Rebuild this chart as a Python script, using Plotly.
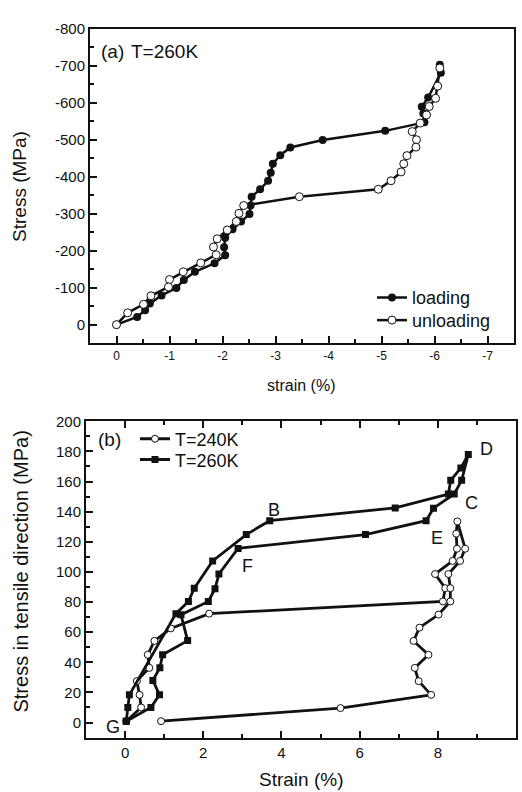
import plotly.graph_objects as go

# ---------------- Panel (a): T=260K, compression ----------------
a_load_strain = [0, -0.39, -0.54, -0.63, -0.85, -1.13, -1.27, -1.48, -1.85, -2.05, -2.03, -2.05,
                 -2.19, -2.35, -2.51, -2.53, -2.55, -2.71, -2.86, -2.91, -2.95, -3.09, -3.28,
                 -3.89, -5.07, -5.81, -5.79, -5.76, -5.88, -6.12, -6.1]
a_load_stress = [0, -21, -39, -57, -79, -99, -121, -143, -166, -188, -209, -235,
                 -258, -279, -299, -322, -346, -366, -389, -411, -435, -458, -479,
                 -499, -524, -547, -571, -589, -614, -681, -703]
a_unload_strain = [-6.1, -6.06, -6.02, -5.9, -5.85, -5.73, -5.58, -5.66, -5.65, -5.48, -5.42,
                   -5.37, -5.18, -4.94, -3.45, -2.4, -2.31, -2.26, -2.09, -1.9, -1.83, -1.88,
                   -1.59, -1.26, -1.0, -0.98, -0.65, -0.51, -0.21, 0]
a_unload_stress = [-694, -645, -612, -590, -567, -545, -522, -500, -480, -457, -435,
                   -413, -389, -366, -346, -322, -301, -279, -256, -232, -210, -189,
                   -167, -143, -122, -102, -78, -55, -32, 0]
a_xticks = [0, -1, -2, -3, -4, -5, -6, -7]
a_xticktext = ["0", "-1", "-2", "-3", "-4", "-5", "-6", "-7"]
a_yticks = [0, -100, -200, -300, -400, -500, -600, -700, -800]
a_yticktext = ["0", "-100", "-200", "-300", "-400", "-500", "-600", "-700", "-800"]

# ---------------- Panel (b): tensile ----------------
b240_strain = [0.03, 0.41, 0.37, 0.3, 0.62, 0.58, 0.75, 1.17, 2.15, 8.13, 8.19, 7.93, 8.38, 8.49,
               8.47, 8.5, 8.7, 8.57, 8.27, 8.32, 8.32, 8.02, 7.53, 7.38, 7.76, 7.41, 7.51, 7.83,
               5.51, 0.92]
b240_stress = [0.9, 10, 18.4, 27.5, 36.3, 45, 54.2, 62.5, 72.3, 80.4, 89.2, 98.6, 107.3, 115.4,
               125.4, 133.5, 115.4, 107.3, 98.6, 89.2, 80.4, 71.7, 63, 54.2, 45, 36.3, 27.5, 18.4,
               9.6, 0.9]
b260_strain = [0.03, 0.07, 0.11, 1.3, 1.62, 1.77, 2.24, 3.1, 3.7, 6.91, 8.27, 8.33, 8.59, 8.78,
               8.61, 8.42, 7.89, 7.7, 6.15, 2.89, 2.4, 2.3, 2.13, 1.43, 1.6, 0.96, 0.89, 0.71,
               0.88, 0.66, 0.03]
b260_stress = [0.9, 10, 18.4, 72.3, 80.4, 89.2, 107.3, 124.8, 134, 142.5, 151.7, 160.8, 169, 178,
               160.8, 151.7, 142.3, 134, 124.8, 115.6, 98.6, 88.9, 80.4, 71.5, 54.4, 45, 36.3, 28,
               18.4, 10, 0.9]
b_xticks = [0, 2, 4, 6, 8, 10]
b_yticks = [0, 20, 40, 60, 80, 100, 120, 140, 160, 180, 200]
b_labels = ["B", "C", "D", "E", "F", "G"]
b_label_x = [3.8, 8.85, 9.25, 7.98, 3.13, -0.3]
b_label_y = [141, 145.5, 181.5, 122.5, 104, -3]

FONT = "Arial, Liberation Sans, Helvetica, sans-serif"
BLACK = "#111111"

fig = go.Figure()

fig.add_trace(go.Scatter(x=a_load_strain, y=a_load_stress, mode="lines+markers", name="loading",
                         line=dict(color=BLACK, width=2.5),
                         marker=dict(symbol="circle", size=8, color=BLACK),
                         xaxis="x", yaxis="y", legend="legend"))
fig.add_trace(go.Scatter(x=a_unload_strain, y=a_unload_stress, mode="lines+markers", name="unloading",
                         line=dict(color=BLACK, width=2.5),
                         marker=dict(symbol="circle", size=8, color="white",
                                     line=dict(color=BLACK, width=1)),
                         xaxis="x", yaxis="y", legend="legend2"))

fig.add_trace(go.Scatter(x=b240_strain, y=b240_stress, mode="lines+markers", name="T=240K",
                         line=dict(color=BLACK, width=2.8),
                         marker=dict(symbol="circle", size=7, color="white",
                                     line=dict(color=BLACK, width=1)),
                         xaxis="x2", yaxis="y2", legend="legend3"))
fig.add_trace(go.Scatter(x=b260_strain, y=b260_stress, mode="lines+markers", name="T=260K",
                         line=dict(color=BLACK, width=2.8),
                         marker=dict(symbol="square", size=7, color=BLACK),
                         xaxis="x2", yaxis="y2", legend="legend4"))

W, H = 522, 792
def px(x):
    return x / W
def py(y):
    return 1 - y / H

axis_common = dict(showline=True, linecolor=BLACK, linewidth=2, ticks="inside",
                   tickcolor=BLACK, tickwidth=1.5, ticklen=7, showgrid=False, zeroline=False)

def leg(xp, yp):
    return dict(x=px(xp), y=py(yp), xanchor="left", yanchor="middle",
                font=dict(size=18, family=FONT), bgcolor="rgba(0,0,0,0)",
                itemsizing="trace")

fig.update_layout(
    width=W, height=H,
    margin=dict(l=0, r=0, t=0, b=0),
    paper_bgcolor="white", plot_bgcolor="white",
    font=dict(family=FONT, color=BLACK),
    xaxis=dict(domain=[px(90), px(514)], anchor="y", range=[0.5, -7.5],
               tickvals=a_xticks, ticktext=a_xticktext, tickfont=dict(size=12),
               minor=dict(dtick=0.5, ticks="inside", ticklen=4, tickcolor=BLACK, tickwidth=1.5),
               mirror=True, **axis_common),
    yaxis=dict(domain=[py(338), py(20)], anchor="x", range=[50, -800],
               tickvals=a_yticks, ticktext=a_yticktext, tickfont=dict(size=15),
               minor=dict(dtick=50, ticks="inside", ticklen=4, tickcolor=BLACK, tickwidth=1.5),
               mirror=True, **axis_common),
    xaxis2=dict(domain=[px(86), px(516)], anchor="y2", range=[-1, 10],
                tickvals=b_xticks, tickfont=dict(size=15),
                minor=dict(dtick=1, ticks="inside", ticklen=4, tickcolor=BLACK, tickwidth=1.5),
                mirror="ticks", **axis_common),
    yaxis2=dict(domain=[py(737), py(417)], anchor="x2", range=[-10, 200],
                tickvals=b_yticks, tickfont=dict(size=15),
                minor=dict(dtick=10, ticks="inside", ticklen=4, tickcolor=BLACK, tickwidth=1.5),
                mirror=True, **axis_common),
    legend=leg(372, 292),
    legend2=leg(372, 315),
    legend3=leg(135, 435),
    legend4=leg(135, 456),
    showlegend=True,
)

annotations = [
    dict(text="(a)", x=px(99), y=py(43), xref="paper", yref="paper", xanchor="left",
         yanchor="middle", showarrow=False, font=dict(size=19)),
    dict(text="T=260K", x=px(129), y=py(43), xref="paper", yref="paper", xanchor="left",
         yanchor="middle", showarrow=False, font=dict(size=19)),
    dict(text="(b)", x=px(96), y=py(435), xref="paper", yref="paper", xanchor="left",
         yanchor="middle", showarrow=False, font=dict(size=19)),
    dict(text="Stress (MPa)", x=px(20), y=py(180), xref="paper", yref="paper", textangle=-90,
         xanchor="center", yanchor="middle", showarrow=False, font=dict(size=19)),
    dict(text="strain (%)", x=px(301), y=py(381), xref="paper", yref="paper",
         xanchor="center", yanchor="middle", showarrow=False, font=dict(size=16)),
    dict(text="Stress in tensile direction (MPa)", x=px(21), y=py(569), xref="paper", yref="paper",
         textangle=-90, xanchor="center", yanchor="middle", showarrow=False, font=dict(size=20)),
    dict(text="Strain (%)", x=px(301), y=py(779), xref="paper", yref="paper",
         xanchor="center", yanchor="middle", showarrow=False, font=dict(size=19)),
]
for lab, lx, ly in zip(b_labels, b_label_x, b_label_y):
    annotations.append(dict(text=lab, x=lx, y=ly, xref="x2", yref="y2", showarrow=False,
                            xanchor="center", yanchor="middle", font=dict(size=18)))
fig.update_layout(annotations=annotations)

fig.write_html("out.html", config={"displayModeBar": False},
               post_script="document.body.style.margin='0';document.body.style.overflow='hidden';")
